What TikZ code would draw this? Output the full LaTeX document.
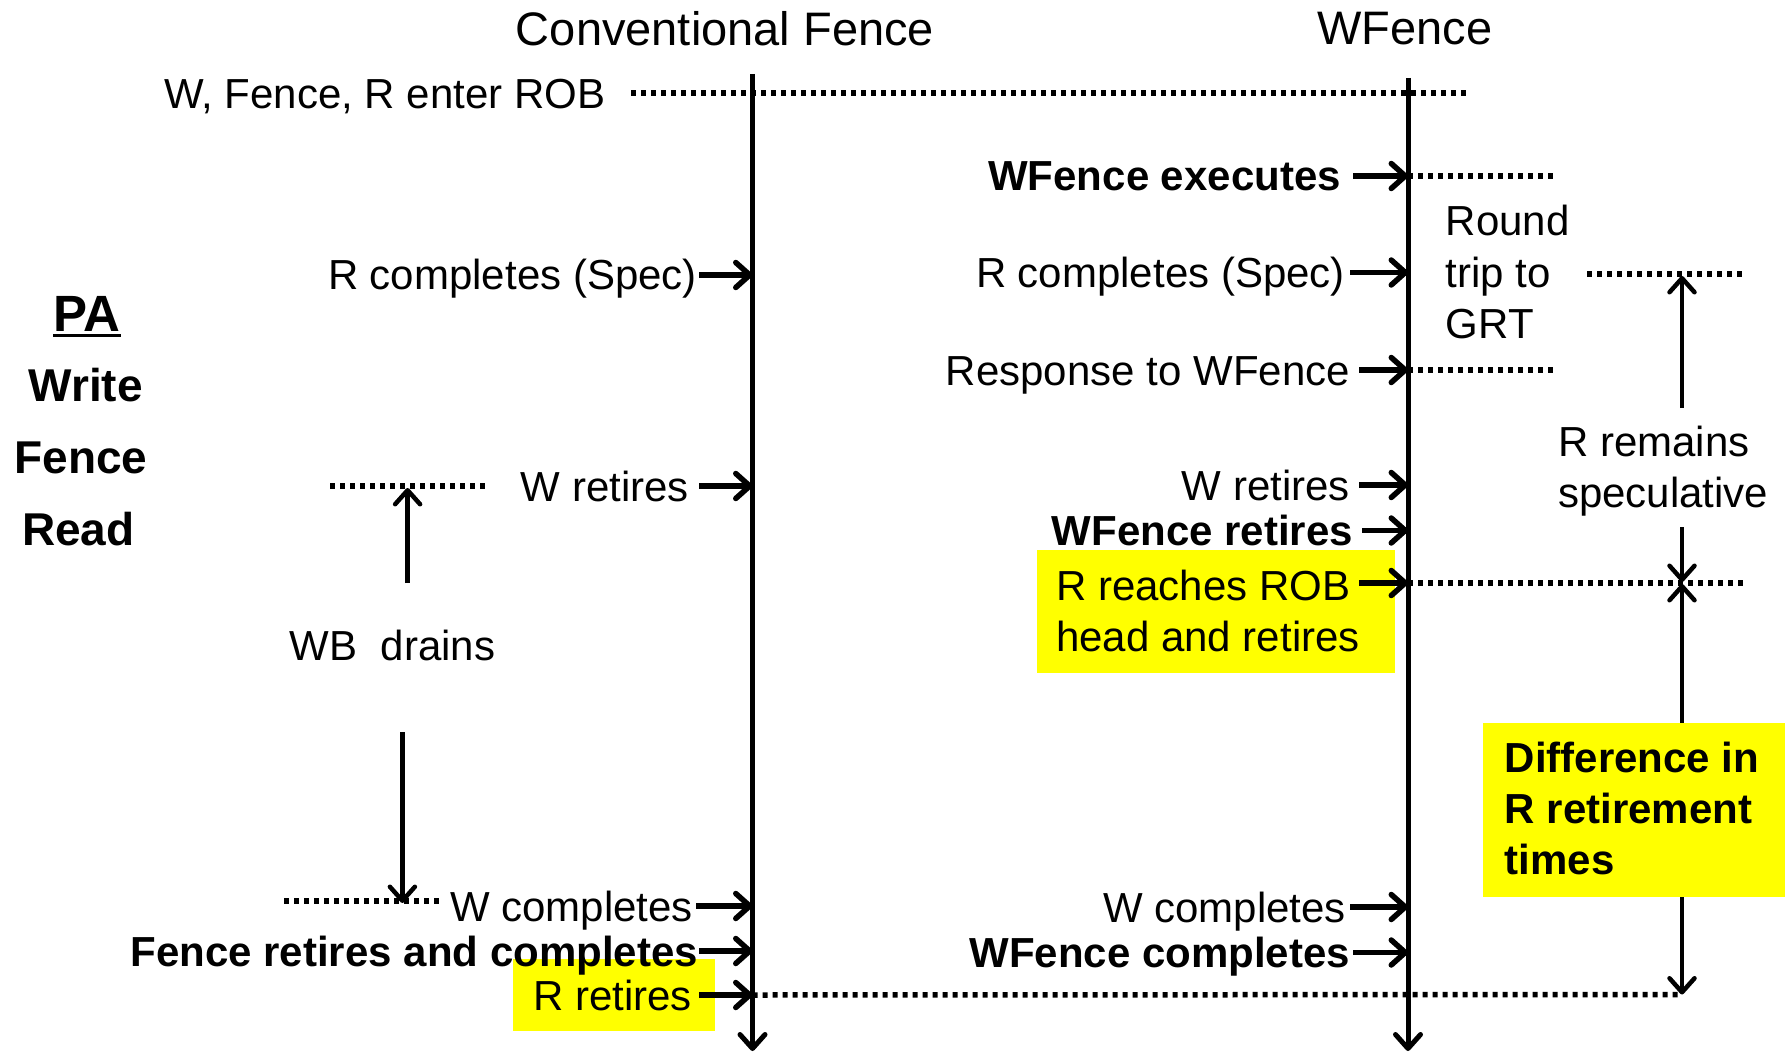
\documentclass[tikz,border=0pt]{standalone}
\usepackage{fontspec}
\setmainfont{Liberation Sans}
\usetikzlibrary{arrows.meta}
\definecolor{marker}{RGB}{255,255,0}
\tikzset{
  evtip/.tip={Straight Barb[length=14pt,width=25pt,line cap=round,line join=round]},
}
\begin{document}
\begin{tikzpicture}[x=1pt,y=-1pt,
  txt/.style={font=\fontsize{42}{51}\selectfont},
  txtb/.style={font=\fontsize{42}{51}\selectfont\bfseries},
  headfont/.style={font=\fontsize{47}{56}\selectfont},
  sidefont/.style={font=\fontsize{46}{56}\selectfont\bfseries, inner sep=0pt},
  lbl/.style={inner ysep=0pt, text height=30pt, text depth=0pt},
  para/.style={inner sep=0pt, align=left},
  evarrow/.style={line width=5.5pt, -evtip},
  timeline/.style={line width=5pt, -evtip},
  spanarrow/.style={line width=4.5pt, -evtip},
  dspan/.style={line width=4.5pt, evtip-evtip},
  dots/.style={line width=5.5pt, dash pattern=on 5pt off 5pt},
  hlbox/.style={fill=marker, draw=none, inner sep=0pt, anchor=north west},
]
\useasboundingbox (0,0) rectangle (1785,1056);

% yellow highlight boxes behind the text
\node[hlbox, minimum width=202pt, minimum height=72.4pt] (rrbox) at (512.6,958.6) {};
\node[hlbox, minimum width=357.8pt, minimum height=122.8pt] (robbox) at (1037,550) {};

% column titles
\node[headfont, anchor=base] (tconv) at (725,45.7) {Conventional Fence};
\node[headfont, anchor=base] (twf) at (1405,45) {WFence};

% time lines
\coordinate (ctop) at (752.5,74);
\coordinate (cbot) at (752.5,1051);
\coordinate (wtop) at (1408,78);
\coordinate (wbot) at (1408,1051);
\draw[timeline] (ctop) -- (cbot);
\draw[timeline] (wtop) -- (wbot);

% instructions enter the ROB
\node[lbl, txt, anchor=east, inner xsep=0pt] (enter) at (605.6,94) {W, Fence, R enter ROB};
\coordinate (robL) at (631,93);
\coordinate (robR) at (1466,93);
\draw[dots] (robL) -- (robR);

% conventional fence events
\node[lbl, txt, anchor=east, inner xsep=2pt] (lrc) at (699,275) {R completes (Spec)};
\draw[evarrow] (lrc.east) -- (lrc.east -| ctop);
\node[lbl, txt, anchor=east, inner xsep=10pt] (lwr) at (699,486) {W retires};
\draw[evarrow] (lwr.east) -- (lwr.east -| ctop);
\node[lbl, txt, anchor=east, inner xsep=3pt] (lwc) at (696,906) {W completes};
\draw[evarrow] (lwc.east) -- (lwc.east -| ctop);
\node[lbl, txtb, anchor=east, inner xsep=1pt] (lfrc) at (699,951) {Fence retires and completes};
\draw[evarrow] (lfrc.east) -- (lfrc.east -| ctop);
\node[lbl, txt, anchor=east, inner xsep=7pt] (lrr) at (699,995) {R retires};
\draw[evarrow] (lrr.east) -- (lrr.east -| ctop);

% write buffer drain interval
\node[lbl, txt] (wb) at (392.5,645) {WB~~drains};
\coordinate (wbUpA) at (330,486);
\coordinate (wbUpB) at (486,486);
\draw[dots] (wbUpA) -- (wbUpB);
\coordinate (wbUpTail) at (407.6,583);
\coordinate (wbUpTip) at (407.6,488);
\draw[spanarrow] (wbUpTail) -- (wbUpTip);
\coordinate (wbDnA) at (284,901);
\coordinate (wbDnB) at (439,901);
\draw[dots] (wbDnA) -- (wbDnB);
\coordinate (wbDnTail) at (402.4,732);
\coordinate (wbDnTip) at (402.4,903);
\draw[spanarrow] (wbDnTail) -- (wbDnTip);

% WFence events
\node[lbl, txtb, anchor=east, inner xsep=12pt] (rwx) at (1353,176) {WFence executes};
\draw[evarrow] (rwx.east) -- (rwx.east -| wtop);
\coordinate (rwxR) at (1555,176);
\draw[dots] (rwx.east -| wtop) -- (rwxR);
\node[lbl, txt, anchor=east, inner xsep=5pt] (rrc) at (1350,272.5) {R completes (Spec)};
\draw[evarrow] (rrc.east) -- (rrc.east -| wtop);
\node[lbl, txt, anchor=east, inner xsep=9pt] (rresp) at (1359,370) {Response to WFence};
\draw[evarrow] (rresp.east) -- (rresp.east -| wtop);
\coordinate (rrespR) at (1555,370);
\draw[dots] (rresp.east -| wtop) -- (rrespR);
\node[para, txt, anchor=base west] (grt) at (1445.6,338) {Round\\trip to\\GRT};
\node[lbl, txt, anchor=east, inner xsep=9pt] (rwr) at (1359,485) {W retires};
\draw[evarrow] (rwr.east) -- (rwr.east -| wtop);
\node[lbl, txtb, anchor=east, inner xsep=9pt] (rwfr) at (1362,530.5) {WFence retires};
\draw[evarrow] (rwfr.east) -- (rwfr.east -| wtop);
\node[para, txt, anchor=base west] (rrob) at (1056,651.6) {R reaches ROB\\head and retires};
\coordinate (rrobA) at (1359,583);
\draw[evarrow] (rrobA) -- (rrobA -| wtop);
\coordinate (rrobR) at (1743,583);
\draw[dots] (rrobA -| wtop) -- (rrobR);
\node[lbl, txt, anchor=east, inner xsep=4pt] (rwc) at (1350,907) {W completes};
\draw[evarrow] (rwc.east) -- (rwc.east -| wtop);
\node[lbl, txtb, anchor=east, inner xsep=3pt] (rwfc) at (1353,952.5) {WFence completes};
\draw[evarrow] (rwfc.east) -- (rwfc.east -| wtop);

% speculative window of R
\coordinate (specA) at (1587,273.8);
\coordinate (specB) at (1743,273.8);
\draw[dots] (specA) -- (specB);
\node[para, txt, anchor=base west] (remain) at (1558,507) {R remains\\speculative};
\coordinate (specUpTail) at (1682,408);
\coordinate (specUpTip) at (1682,276);
\draw[spanarrow] (specUpTail) -- (specUpTip);
\coordinate (specDnTail) at (1682,527);
\coordinate (specDnTip) at (1682,582);
\draw[spanarrow] (specDnTail) -- (specDnTip);

% bottom line: R retires under the conventional fence
\coordinate (diffBot) at (1682,994.5);
\draw[dots] (lrr.east -| ctop) -- (diffBot);
\coordinate (diffTop) at (1682,584);
\draw[dspan] (diffTop) -- (diffBot);

% retirement difference label
\node[hlbox, minimum width=302pt, minimum height=174.6pt] (diffbox) at (1483,722.4) {};
\node[para, txtb, anchor=base west] (diff) at (1504.5,874) {Difference in\\R retirement\\times};

% program order legend
\node[sidefont, font=\fontsize{51}{60}\selectfont\bfseries, anchor=base] (pa) at (87,331.7) {PA};
\draw[line width=3pt] ([yshift=-4pt]pa.base west) -- ([yshift=-4pt]pa.base east);
\node[sidefont, anchor=base] (pw) at (85.8,401.7) {Write};
\node[sidefont, anchor=base] (pf) at (80.8,473.3) {Fence};
\node[sidefont, anchor=base] (pr) at (78.3,545) {Read};
\end{tikzpicture}
\end{document}
